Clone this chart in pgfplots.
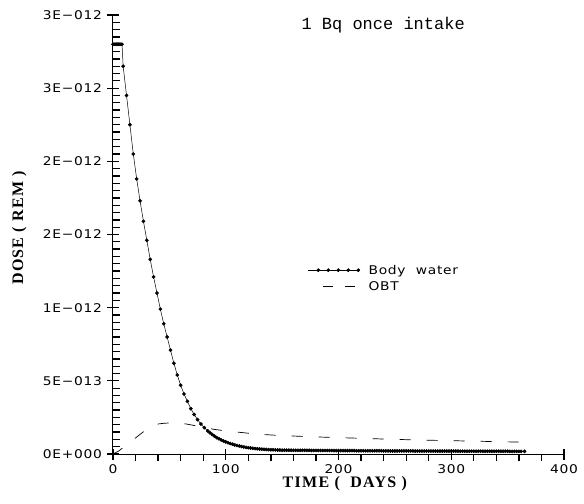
\documentclass[border=0pt]{standalone}
\usepackage{fontspec}
\usepackage{pgfplots}
\pgfplotsset{compat=1.18}
\usetikzlibrary{calc}
\newfontfamily\plotfont[FakeStretch=1.15,LetterSpace=6]{DejaVu Sans}
\newfontfamily\labelfont[LetterSpace=8]{Liberation Serif}
\newfontfamily\titlefont{Liberation Mono}

\begin{document}
\begin{tikzpicture}
\begin{axis}[
    name=ax,
    scale only axis,
    width=451pt,
    height=439pt,
    xmin=0, xmax=400,
    ymin=0, ymax=3e-12,
    axis x line*=bottom,
    axis y line*=left,
    axis line style={-, line width=1pt},
    xtick={0,100,200,300,400},
    xticklabels={0,100,200,300,400},
    ytick={0,0.5e-12,1e-12,1.5e-12,2e-12,2.5e-12,3e-12},
    yticklabels={0E+000,5E−013,1E−012,2E−012,2E−012,3E−012,3E−012},
    scaled y ticks=false,
    tick align=center,
    major tick length=11pt,
    every tick/.style={black, line width=1.2pt},
    ticklabel style={font=\plotfont\fontsize{12}{14}\selectfont},
    xticklabel style={yshift=-2pt},
    yticklabel style={xshift=-2pt},
    clip=false,
    legend style={
        at={(axis description cs:0.432,0.40)},
        anchor=west,
        draw=none,
        fill=none,
        inner sep=0pt,
        row sep=2pt,
        font=\plotfont\fontsize{12}{14}\selectfont,
    },
    legend cell align=left,
]

% minor ticks along the y axis (short combs from x=0)
\addplot[forget plot, xcomb, black, line width=1.3pt]
coordinates {
    (6,0.05e-12) (6,0.1e-12) (6,0.15e-12) (6,0.2e-12) (6,0.25e-12) (6,0.3e-12) (6,0.35e-12) (6,0.4e-12) (6,0.45e-12)
    (6,0.55e-12) (6,0.6e-12) (6,0.65e-12) (6,0.7e-12) (6,0.75e-12) (6,0.8e-12) (6,0.85e-12) (6,0.9e-12) (6,0.95e-12)
    (6,1.05e-12) (6,1.1e-12) (6,1.15e-12) (6,1.2e-12) (6,1.25e-12) (6,1.3e-12) (6,1.35e-12) (6,1.4e-12) (6,1.45e-12)
    (6,1.55e-12) (6,1.6e-12) (6,1.65e-12) (6,1.7e-12) (6,1.75e-12) (6,1.8e-12) (6,1.85e-12) (6,1.9e-12) (6,1.95e-12)
    (6,2.05e-12) (6,2.1e-12) (6,2.15e-12) (6,2.2e-12) (6,2.25e-12) (6,2.3e-12) (6,2.35e-12) (6,2.4e-12) (6,2.45e-12)
    (6,2.55e-12) (6,2.6e-12) (6,2.65e-12) (6,2.7e-12) (6,2.75e-12) (6,2.8e-12) (6,2.85e-12) (6,2.9e-12) (6,2.95e-12)
};
% minor ticks along the x axis (short combs below y=0)
\addplot[forget plot, ycomb, black, line width=1.3pt]
coordinates {
    (20,-0.045e-12) (40,-0.045e-12) (60,-0.045e-12) (80,-0.045e-12) (120,-0.045e-12) (140,-0.045e-12) (160,-0.045e-12) (180,-0.045e-12)
    (220,-0.045e-12) (240,-0.045e-12) (260,-0.045e-12) (280,-0.045e-12) (320,-0.045e-12) (340,-0.045e-12) (360,-0.045e-12) (380,-0.045e-12)
};

% body water
\addplot[black, line width=0.5pt, mark=*, mark size=1.6pt,
    legend image code/.code={
        \draw[black, line width=0.5pt] (0pt,0pt) -- (50pt,0pt);
        \foreach \xx in {10,20,30,40,50} {\fill[black] (\xx pt,0pt) circle (1.6pt);}
        \path (58pt,0pt);
    }]
coordinates {
    (0,2.80e-12) (1,2.80e-12) (2,2.80e-12) (3,2.80e-12) (4,2.80e-12)
    (5,2.80e-12) (6,2.80e-12) (7,2.80e-12) (8,2.80e-12) (9,2.65e-12)
    (12,2.45e-12) (15,2.25e-12) (18,2.05e-12) (21,1.88e-12) (24,1.73e-12)
    (27,1.59e-12) (30,1.46e-12) (33,1.33e-12) (36,1.21e-12) (39,1.10e-12)
    (42,0.99e-12) (45,0.89e-12) (48,0.80e-12) (51,0.71e-12) (54,0.62e-12)
    (57,0.54e-12) (60,0.47e-12) (63,0.41e-12) (66,0.36e-12) (69,0.31e-12)
    (72,0.27e-12) (75,0.235e-12) (78,0.205e-12) (81,0.18e-12) (84,0.158e-12)
    (86,0.145e-12) (88,0.133e-12) (90,0.122e-12) (92,0.112e-12) (94,0.104e-12)
    (96,0.096e-12) (98,0.089e-12) (100,0.083e-12) (102,0.077e-12) (104,0.072e-12)
    (106,0.067e-12) (108,0.062e-12) (110,0.058e-12) (112,0.055e-12) (114,0.051e-12)
    (116,0.048e-12) (118,0.045e-12) (120,0.043e-12) (122,0.041e-12) (124,0.039e-12)
    (126,0.037e-12) (128,0.036e-12) (130,0.034e-12) (132,0.033e-12) (134,0.032e-12)
    (136,0.031e-12) (138,0.030e-12) (140,0.029e-12) (142,0.029e-12) (144,0.028e-12)
    (146,0.027e-12) (148,0.027e-12) (150,0.026e-12) (152,0.026e-12) (154,0.026e-12)
    (156,0.026e-12) (158,0.026e-12) (160,0.025e-12) (162,0.025e-12) (164,0.025e-12)
    (166,0.025e-12) (168,0.025e-12) (170,0.025e-12) (172,0.025e-12) (174,0.025e-12)
    (176,0.024e-12) (178,0.024e-12) (180,0.024e-12) (182,0.024e-12) (184,0.024e-12)
    (186,0.024e-12) (188,0.024e-12) (190,0.024e-12) (192,0.024e-12) (194,0.024e-12)
    (196,0.023e-12) (198,0.023e-12) (200,0.023e-12) (202,0.023e-12) (204,0.023e-12)
    (206,0.023e-12) (208,0.023e-12) (210,0.023e-12) (212,0.023e-12) (214,0.023e-12)
    (216,0.022e-12) (218,0.022e-12) (220,0.022e-12) (222,0.022e-12) (224,0.022e-12)
    (226,0.022e-12) (228,0.022e-12) (230,0.022e-12) (232,0.022e-12) (234,0.022e-12)
    (236,0.022e-12) (238,0.022e-12) (240,0.021e-12) (242,0.021e-12) (244,0.021e-12)
    (246,0.021e-12) (248,0.021e-12) (250,0.021e-12) (252,0.021e-12) (254,0.021e-12)
    (256,0.021e-12) (258,0.021e-12) (260,0.021e-12) (262,0.021e-12) (264,0.021e-12)
    (266,0.021e-12) (268,0.020e-12) (270,0.020e-12) (272,0.020e-12) (274,0.020e-12)
    (276,0.020e-12) (278,0.020e-12) (280,0.020e-12) (282,0.020e-12) (284,0.020e-12)
    (286,0.020e-12) (288,0.020e-12) (290,0.020e-12) (292,0.020e-12) (294,0.020e-12)
    (296,0.020e-12) (298,0.020e-12) (300,0.020e-12) (302,0.020e-12) (304,0.020e-12)
    (306,0.020e-12) (308,0.019e-12) (310,0.019e-12) (312,0.019e-12) (314,0.019e-12)
    (316,0.019e-12) (318,0.019e-12) (320,0.019e-12) (322,0.019e-12) (324,0.019e-12)
    (326,0.019e-12) (328,0.019e-12) (330,0.019e-12) (332,0.019e-12) (334,0.019e-12)
    (336,0.019e-12) (338,0.019e-12) (340,0.019e-12) (342,0.019e-12) (344,0.019e-12)
    (346,0.019e-12) (348,0.019e-12) (350,0.019e-12) (352,0.018e-12) (354,0.018e-12)
    (356,0.018e-12) (358,0.018e-12) (360,0.018e-12) (362,0.018e-12) (365,0.018e-12)
};
\addlegendentry{Body\ \ water}

% OBT
\addplot[black, line width=0.7pt, dash pattern=on 11pt off 16pt,
    legend image code/.code={
        \draw[black, line width=0.7pt, dash pattern=on 10pt off 12pt] (15pt,0pt) -- (47pt,0pt);
        \path (58pt,0pt);
    }]
coordinates {
    (0,0.0) (5,0.02e-12) (10,0.05e-12) (15,0.08e-12) (20,0.11e-12)
    (25,0.14e-12) (30,0.17e-12) (35,0.19e-12) (40,0.205e-12) (45,0.21e-12)
    (50,0.212e-12) (55,0.212e-12) (60,0.21e-12) (65,0.205e-12) (70,0.198e-12)
    (75,0.19e-12) (80,0.182e-12) (90,0.168e-12) (100,0.158e-12) (110,0.15e-12)
    (120,0.142e-12) (130,0.135e-12) (140,0.13e-12) (150,0.126e-12) (175,0.118e-12)
    (200,0.112e-12) (225,0.106e-12) (250,0.10e-12) (275,0.095e-12) (300,0.091e-12)
    (325,0.087e-12) (350,0.083e-12) (365,0.081e-12)
};
\addlegendentry{OBT}

\node[font=\titlefont\fontsize{17}{20}\selectfont] at (axis description cs:0.599,0.977) {1 Bq once intake};
\node[rotate=90, font=\labelfont\bfseries\fontsize{16}{19}\selectfont] at (axis description cs:-0.208,0.515) {DOSE ( REM )};
\node[font=\labelfont\bfseries\fontsize{16}{19}\selectfont] at (axis description cs:0.514,-0.068) {TIME (\ \ DAYS )};

\end{axis}
\path ($(ax.south west)+(-113pt,-49pt)$) rectangle ($(ax.north east)+(20pt,15pt)$);
\end{tikzpicture}
\end{document}
